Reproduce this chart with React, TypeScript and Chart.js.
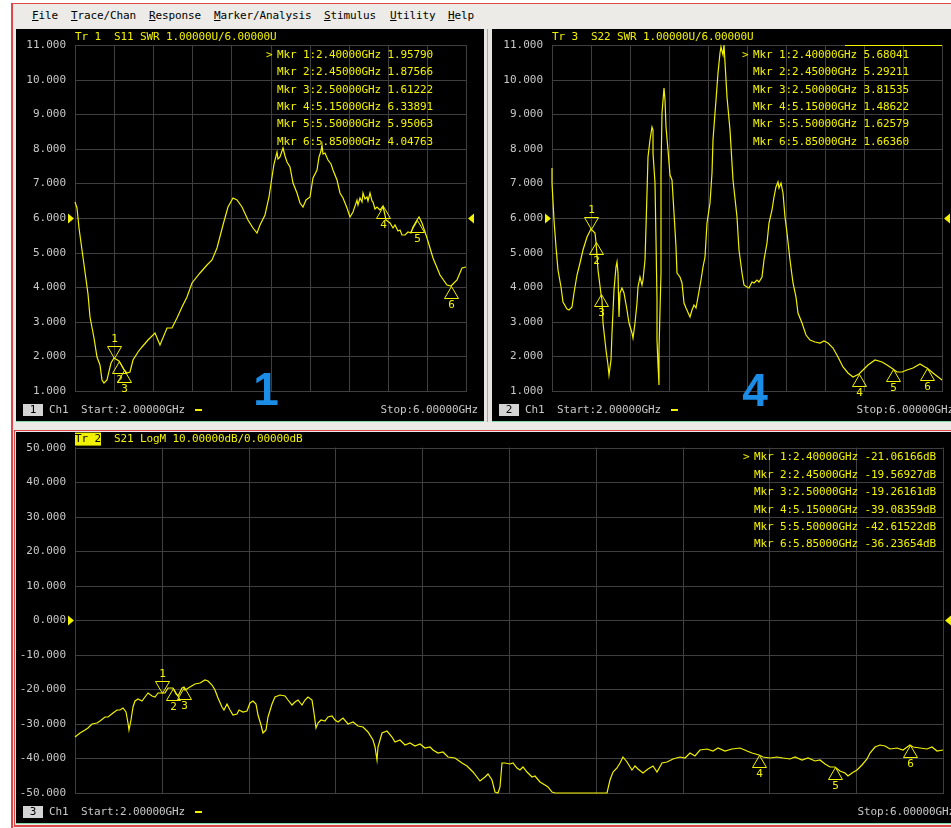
import React, { useEffect, useRef } from "react";
import { Chart, registerables } from "chart.js";

Chart.register(...registerables);

const MONO = '"DejaVu Sans Mono", "Liberation Mono", monospace';
const YELLOW = "#f2f200";
const GRID = "#3f3f3f";
const AXIS_TEXT = "#c8c8c8";
const ADV = 6.5; // fixed character advance of the instrument font

// ---- Trace 1: S11 SWR (GHz / ratio) ----
const s11Freq = [
  2.0, 2.017, 2.036, 2.069, 2.102, 2.128, 2.153, 2.197, 2.222, 2.256, 2.273, 2.3, 2.324, 2.368,
  2.4, 2.45, 2.5, 2.527, 2.563, 2.593, 2.64, 2.682, 2.747, 2.818, 2.87, 2.938, 2.989, 3.04,
  3.092, 3.143, 3.194, 3.279, 3.347, 3.398, 3.45, 3.517, 3.568, 3.616, 3.654, 3.705, 3.773,
  3.824, 3.859, 3.893, 3.944, 3.98, 4.012, 4.04, 4.063, 4.08, 4.097, 4.131, 4.15, 4.166, 4.2,
  4.233, 4.268, 4.302, 4.336, 4.363, 4.404, 4.438, 4.473, 4.499, 4.512, 4.524, 4.54, 4.558,
  4.591, 4.62, 4.642, 4.677, 4.711, 4.745, 4.78, 4.813, 4.847, 4.882, 4.9, 4.916, 4.935, 4.949,
  4.966, 4.984, 5.0, 5.018, 5.035, 5.052, 5.07, 5.086, 5.12, 5.15, 5.185, 5.222, 5.25, 5.274,
  5.3, 5.325, 5.35, 5.376, 5.407, 5.435, 5.461, 5.5, 5.52, 5.547, 5.598, 5.666, 5.734, 5.803,
  5.85, 5.905, 5.956, 6.0,
];
const s11Swr = [
  6.47, 6.29, 5.7, 5.07, 4.45, 3.8, 3.15, 2.53, 1.99, 1.75, 1.32, 1.24, 1.32, 1.81,
  1.9579, 1.87566, 1.61222, 1.52, 1.56, 1.9, 2.12, 2.28, 2.47, 2.67, 2.33, 2.81, 2.81, 3.1,
  3.44, 3.73, 4.11, 4.4, 4.64, 4.79, 5.12, 5.8, 6.33, 6.57, 6.52, 6.33, 5.94,
  5.7, 5.56, 5.8, 6.09, 6.6, 7.19, 7.55, 7.92, 7.7, 7.77, 8.01, 7.8, 7.63, 7.48,
  7.0, 6.71, 6.42, 6.33, 6.52, 6.62, 7.15, 7.39, 7.77, 7.95, 8.11, 7.85, 7.87,
  7.68, 7.55, 7.39, 7.1, 6.71, 6.57, 6.28, 6.04, 6.18, 6.52, 6.38, 6.57, 6.45, 6.71,
  6.55, 6.62, 6.48, 6.71, 6.5, 6.47, 6.25, 6.33, 6.23, 6.33891, 5.95, 5.85, 5.7, 5.8,
  5.62, 5.65, 5.5, 5.51, 5.6, 5.58, 5.75, 5.95063, 6.02, 5.85, 5.41, 4.84, 4.35, 4.06,
  4.04763, 4.21, 4.55, 4.59,
];

// ---- Trace 3: S22 SWR ----
const s22Freq = [
  2.0, 2.003, 2.024, 2.037, 2.065, 2.092, 2.116, 2.15, 2.174, 2.201, 2.228, 2.252, 2.287, 2.321,
  2.355, 2.4, 2.441, 2.45, 2.474, 2.5, 2.508, 2.526, 2.549, 2.57, 2.587, 2.604, 2.618, 2.635,
  2.652, 2.669, 2.679, 2.69, 2.7, 2.713, 2.741, 2.765, 2.789, 2.816, 2.833, 2.85, 2.867, 2.884,
  2.902, 2.918, 2.935, 2.953, 2.963, 2.976, 2.987, 3.004, 3.021, 3.031, 3.041, 3.055, 3.066,
  3.076, 3.082, 3.089, 3.096, 3.102, 3.113, 3.123, 3.133, 3.148, 3.158, 3.174, 3.192, 3.209,
  3.233, 3.253, 3.27, 3.287, 3.311, 3.335, 3.356, 3.379, 3.414, 3.438, 3.458, 3.482, 3.499,
  3.527, 3.55, 3.568, 3.594, 3.619, 3.636, 3.653, 3.67, 3.687, 3.704, 3.721, 3.738, 3.755,
  3.765, 3.793, 3.827, 3.861, 3.902, 3.922, 3.947, 3.97, 3.998, 4.025, 4.049, 4.076, 4.1,
  4.127, 4.152, 4.178, 4.203, 4.23, 4.254, 4.278, 4.298, 4.316, 4.332, 4.346, 4.367, 4.39,
  4.414, 4.442, 4.475, 4.503, 4.527, 4.561, 4.606, 4.647, 4.698, 4.749, 4.793, 4.834, 4.885,
  4.936, 4.988, 5.039, 5.09, 5.15, 5.193, 5.244, 5.312, 5.381, 5.432, 5.5, 5.535, 5.586,
  5.637, 5.705, 5.773, 5.825, 5.85, 5.91, 6.0,
];
const s22Swr = [
  7.44, 7.0, 5.94, 5.17, 4.5, 4.01, 3.58, 3.36, 3.34, 3.44, 3.82, 4.35, 4.69, 5.08,
  5.46, 5.68041, 5.56, 5.29211, 4.5, 3.81535, 3.63, 2.96, 2.18, 1.75, 1.46, 1.9, 2.67, 3.92,
  4.59, 4.74, 4.4, 3.15, 3.82, 3.97, 3.82, 3.34, 2.96, 2.67, 2.52, 2.96, 3.53, 4.01,
  4.29, 4.06, 4.21, 4.79, 5.75, 6.71, 7.77, 8.25, 8.64, 8.54, 7.87, 7.0, 5.36,
  3.63, 2.47, 1.75, 1.17, 2.2, 4.4, 7.29, 9.03, 9.75, 9.41, 8.64, 7.97, 7.24,
  7.1, 6.14, 5.17, 4.4, 4.29, 4.11, 3.53, 3.39, 3.15, 3.34, 3.49, 3.39, 3.73,
  4.21, 4.59, 4.88, 5.85, 6.42, 7.29, 8.25, 9.03, 9.41, 10.18, 10.76, 10.95, 10.71,
  11.0, 9.51, 8.54, 7.1, 6.04, 5.08, 4.4, 4.06, 4.01, 3.97, 4.16, 4.11, 4.21,
  4.16, 4.3, 4.79, 5.27, 5.85, 6.23, 6.62, 6.9, 7.05, 6.86, 7.0, 6.71, 6.04,
  5.56, 4.79, 4.11, 3.73, 3.25, 2.96, 2.62, 2.47, 2.42, 2.38, 2.45, 2.38, 2.23,
  1.99, 1.7, 1.51, 1.41, 1.48622, 1.61, 1.75, 1.9, 1.85, 1.75, 1.62579, 1.56, 1.56,
  1.61, 1.66, 1.78, 1.7, 1.6636, 1.51, 1.33,
];

// ---- Trace 2: S21 log magnitude (GHz / dB) ----
const s21Freq = [
  2.0, 2.023, 2.046, 2.061, 2.077, 2.1, 2.115, 2.138, 2.153, 2.176, 2.192, 2.207, 2.223, 2.235,
  2.243, 2.249, 2.257, 2.266, 2.276, 2.292, 2.307, 2.323, 2.338, 2.353, 2.369, 2.384, 2.4,
  2.415, 2.43, 2.45, 2.465, 2.476, 2.492, 2.5, 2.507, 2.53, 2.553, 2.576, 2.599, 2.614, 2.63,
  2.645, 2.66, 2.676, 2.687, 2.699, 2.714, 2.73, 2.745, 2.757, 2.776, 2.791, 2.806, 2.822,
  2.834, 2.845, 2.856, 2.868, 2.879, 2.891, 2.906, 2.922, 2.945, 2.968, 2.983, 2.999, 3.014,
  3.029, 3.045, 3.06, 3.075, 3.091, 3.101, 3.111, 3.121, 3.132, 3.152, 3.167, 3.183, 3.198,
  3.213, 3.236, 3.259, 3.282, 3.306, 3.329, 3.352, 3.372, 3.382, 3.39, 3.398, 3.413, 3.436,
  3.459, 3.475, 3.498, 3.521, 3.544, 3.567, 3.59, 3.613, 3.636, 3.651, 3.674, 3.697, 3.72,
  3.751, 3.782, 3.805, 3.835, 3.866, 3.889, 3.905, 3.92, 3.935, 3.951, 3.959, 3.966, 3.982,
  4.005, 4.02, 4.035, 4.051, 4.066, 4.082, 4.105, 4.12, 4.143, 4.166, 4.181, 4.197, 4.212,
  4.453, 4.465, 4.481, 4.496, 4.512, 4.527, 4.542, 4.565, 4.581, 4.596, 4.619, 4.642, 4.665,
  4.681, 4.704, 4.727, 4.757, 4.788, 4.811, 4.834, 4.857, 4.88, 4.911, 4.941, 4.965, 4.995,
  5.026, 5.064, 5.095, 5.118, 5.15, 5.172, 5.203, 5.234, 5.264, 5.295, 5.318, 5.349, 5.379,
  5.41, 5.433, 5.456, 5.479, 5.5, 5.525, 5.548, 5.564, 5.579, 5.602, 5.625, 5.648, 5.664,
  5.687, 5.71, 5.733, 5.756, 5.787, 5.817, 5.85, 5.863, 5.894, 5.925, 5.948, 5.971, 6.0,
];
const s21Db = [
  -33.9, -32.58, -31.79, -31.3, -30.06, -29.68, -29.19, -28.12, -27.95, -26.79, -26.01, -26.01, -25.43, -26.55,
  -29.86, -31.79, -28.9, -25.05, -23.32, -22.92, -23.32, -22.17, -21.19, -21.97, -22.33, -21.19, -21.06166,
  -21.0, -19.74, -19.56927, -21.39, -21.97, -19.48, -19.26161, -20.06, -19.28, -18.5, -18.12, -17.34, -17.53, -18.79,
  -20.23, -22.63, -25.06, -25.83, -24.28, -26.01, -27.46, -27.0, -26.0, -26.5, -26.2, -23.9, -23.5,
  -24.1, -27.46, -30.35, -32.75, -31.8, -27.95, -24.09, -22.17, -21.68, -21.97, -23.12, -24.57, -23.6,
  -23.12, -24.57, -23.12, -22.17, -23.12, -26.97, -31.3, -29.86, -28.9, -29.1, -28.1, -27.75, -28.9,
  -29.4, -28.4, -29.9, -29.4, -30.64, -31.0, -32.3, -34.68, -36.6, -40.46, -36.6, -32.75, -31.98,
  -33.7, -35.17, -34.7, -36.13, -35.45, -36.4, -35.8, -37.1, -36.8, -37.5, -38.53, -38.05, -39.5,
  -39.96, -41.4, -42.2, -43.84, -46.5, -45.29, -44.5, -46.24, -49.6, -50.0, -48.2, -41.4, -41.2,
  -41.6, -41.4, -42.9, -43.3, -42.6, -43.8, -45.3, -45.1, -46.7, -47.7, -48.2, -49.6, -50.0,
  -50.0, -46.24, -43.8, -42.9, -41.4, -39.7, -40.9, -43.3, -42.1, -43.0, -44.2, -43.0, -42.3,
  -43.8, -41.2, -40.9, -40.2, -39.5, -40.0, -38.5, -39.3, -37.57, -37.4, -37.8, -37.1, -37.8,
  -37.4, -37.1, -37.8, -38.4, -39.08359, -39.7, -40.0, -39.5, -40.0, -40.2, -39.7, -40.5, -40.0,
  -40.6, -40.5, -41.6, -42.4, -42.61522, -43.5, -44.2, -45.0, -44.2, -43.3, -41.8, -40.2, -38.5,
  -36.8, -36.1, -36.4, -37.4, -37.1, -37.6, -36.23654, -36.8, -37.1, -37.4, -36.8, -37.8, -37.6,
];

// ---- Markers (shared stimulus points) ----
const markerFreq = [2.4, 2.45, 2.5, 5.15, 5.5, 5.85];
const s11MarkerVal = [1.9579, 1.87566, 1.61222, 6.33891, 5.95063, 4.04763];
const s22MarkerVal = [5.68041, 5.29211, 3.81535, 1.48622, 1.62579, 1.6636];
const s21MarkerVal = [-21.06166, -19.56927, -19.26161, -39.08359, -42.61522, -36.23654];

const startGHz = 2.0;
const stopGHz = 6.0;
const freqStep = 0.4;

const menuItems = ["File", "Trace/Chan", "Response", "Marker/Analysis", "Stimulus", "Utility", "Help"];
const menuX = [32, 71, 149, 214, 324, 390, 448];

type Panel = {
  left: number;
  top: number;
  width: number;
  height: number;
  yWidth: number;
  padRight: number;
  padTop: number;
  padBottom: number;
  trLabel: string;
  header: string;
  highlight: boolean;
  chNum: string;
  freq: number[];
  vals: number[];
  yMin: number;
  yMax: number;
  yStep: number;
  refVal: number;
  markerVals: number[];
  unit: string;
  tableX: number;
  big?: { text: string; x: number; y: number };
  topSeg?: [number, number];
};

const panels: Panel[] = [
  {
    left: 16, top: 29, width: 468, height: 392, yWidth: 59, padRight: 18, padTop: 16, padBottom: 30,
    trLabel: "Tr 1", header: "S11 SWR 1.00000U/6.00000U", highlight: false, chNum: "1",
    freq: s11Freq, vals: s11Swr, yMin: 1, yMax: 11, yStep: 1, refVal: 6,
    markerVals: s11MarkerVal, unit: "", tableX: 261, big: { text: "1", x: 250, y: 376 },
  },
  {
    left: 492, top: 29, width: 470, height: 392, yWidth: 60, padRight: 20, padTop: 16, padBottom: 30,
    trLabel: "Tr 3", header: "S22 SWR 1.00000U/6.00000U", highlight: false, chNum: "2",
    freq: s22Freq, vals: s22Swr, yMin: 1, yMax: 11, yStep: 1, refVal: 6,
    markerVals: s22MarkerVal, unit: "", tableX: 261, big: { text: "4", x: 263, y: 377 },
    topSeg: [5.0, 6.0],
  },
  {
    left: 16, top: 432, width: 940, height: 391, yWidth: 59, padRight: 13, padTop: 15, padBottom: 30,
    trLabel: "Tr 2", header: "S21 LogM 10.00000dB/0.00000dB", highlight: true, chNum: "3",
    freq: s21Freq, vals: s21Db, yMin: -50, yMax: 50, yStep: 10, refVal: 0,
    markerVals: s21MarkerVal, unit: "dB", tableX: 738,
  },
];

function mono(ctx: CanvasRenderingContext2D, s: string, x: number, y: number, color: string, align = "left") {
  const w = s.length * ADV;
  const x0 = align === "right" ? x - w : align === "center" ? x - w / 2 : x;
  ctx.save();
  ctx.font = `11px ${MONO}`;
  ctx.fillStyle = color;
  ctx.textAlign = "left";
  ctx.textBaseline = "middle";
  for (let i = 0; i < s.length; i++) ctx.fillText(s[i], x0 + i * ADV, y);
  ctx.restore();
}

function overlayPlugin(p: Panel) {
  return {
    id: "vnaOverlay",
    afterDraw(chart: any) {
      const ctx: CanvasRenderingContext2D = chart.ctx;
      const area = chart.chartArea;
      const xs = chart.scales.x;
      const ys = chart.scales.y;

      // trace title line
      const hy = area.top - 8;
      if (p.highlight) {
        ctx.fillStyle = YELLOW;
        ctx.fillRect(area.left, area.top - 15, 26, 13);
        mono(ctx, p.trLabel, area.left, hy, "#000");
      } else {
        mono(ctx, p.trLabel, area.left, hy, YELLOW);
      }
      mono(ctx, p.header, area.left + 6 * ADV, hy, YELLOW);

      // top-edge segment
      if (p.topSeg) {
        ctx.save();
        ctx.strokeStyle = YELLOW;
        ctx.lineWidth = 1;
        ctx.beginPath();
        ctx.moveTo(xs.getPixelForValue(p.topSeg[0]), Math.round(area.top) + 0.5);
        ctx.lineTo(xs.getPixelForValue(p.topSeg[1]), Math.round(area.top) + 0.5);
        ctx.stroke();
        ctx.restore();
      }

      // marker readout table
      for (let i = 0; i < markerFreq.length; i++) {
        const y = area.top + 10 + i * 17.4;
        if (i === 0) mono(ctx, ">", p.tableX - 11, y, YELLOW);
        const txt = `Mkr ${i + 1}:${markerFreq[i].toFixed(5)}GHz ${p.markerVals[i].toFixed(5)}${p.unit}`;
        mono(ctx, txt, p.tableX, y, YELLOW);
      }

      // marker symbols on the trace
      ctx.save();
      ctx.strokeStyle = YELLOW;
      ctx.lineWidth = 1;
      for (let i = 0; i < markerFreq.length; i++) {
        const px = Math.round(xs.getPixelForValue(markerFreq[i])) + 0.5;
        const py = Math.round(ys.getPixelForValue(p.markerVals[i])) + 0.5;
        ctx.beginPath();
        if (i === 0) {
          ctx.moveTo(px, py);
          ctx.lineTo(px - 7, py - 12);
          ctx.lineTo(px + 7, py - 12);
        } else {
          ctx.moveTo(px, py);
          ctx.lineTo(px - 7, py + 12);
          ctx.lineTo(px + 7, py + 12);
        }
        ctx.closePath();
        ctx.stroke();
        const ly = i === 0 ? py - 19 : py + 19;
        mono(ctx, String(i + 1), px, ly, YELLOW, "center");
      }
      ctx.restore();

      // reference level arrows
      const ry = Math.round(ys.getPixelForValue(p.refVal)) + 0.5;
      ctx.save();
      ctx.fillStyle = YELLOW;
      ctx.beginPath();
      ctx.moveTo(area.left - 1, ry);
      ctx.lineTo(area.left - 7, ry - 5);
      ctx.lineTo(area.left - 7, ry + 5);
      ctx.closePath();
      ctx.fill();
      ctx.beginPath();
      ctx.moveTo(area.right + 2, ry);
      ctx.lineTo(area.right + 8, ry - 5);
      ctx.lineTo(area.right + 8, ry + 5);
      ctx.closePath();
      ctx.fill();
      ctx.restore();

      // channel status line
      const fy = area.bottom + 19;
      ctx.fillStyle = "#d4d4d4";
      ctx.fillRect(7, area.bottom + 13, 20, 12);
      mono(ctx, p.chNum, 17, fy, "#000", "center");
      mono(ctx, "Ch1", 33, fy, AXIS_TEXT);
      mono(ctx, `Start:${startGHz.toFixed(5)}GHz`, 65, fy, AXIS_TEXT);
      ctx.fillStyle = YELLOW;
      ctx.fillRect(179, Math.round(fy) - 1, 7, 2);
      mono(ctx, `Stop:${stopGHz.toFixed(5)}GHz`, area.right + 12, fy, AXIS_TEXT, "right");

      // window number
      if (p.big) {
        ctx.save();
        ctx.fillStyle = "#1b8de6";
        ctx.font = 'bold 46px "Liberation Sans", Arial, sans-serif';
        ctx.textAlign = "center";
        ctx.textBaseline = "alphabetic";
        ctx.fillText(p.big.text, p.big.x, p.big.y);
        ctx.restore();
      }
    },
  };
}

function VnaPanel({ p }: { p: Panel }) {
  const ref = useRef<HTMLCanvasElement>(null);
  useEffect(() => {
    const canvas = ref.current;
    if (!canvas) return;
    const chart = new Chart(canvas, {
      type: "line",
      data: {
        datasets: [
          {
            data: p.freq.map((f, i) => ({ x: f, y: p.vals[i] })),
            borderColor: YELLOW,
            borderWidth: 1.2,
            pointRadius: 0,
            tension: 0,
            clip: 3,
          } as any,
        ],
      },
      options: {
        responsive: false,
        animation: false,
        devicePixelRatio: 1,
        events: [],
        layout: { padding: { left: 0, right: p.padRight, top: p.padTop, bottom: p.padBottom } },
        plugins: { legend: { display: false }, tooltip: { enabled: false } },
        scales: {
          x: {
            type: "linear",
            min: startGHz,
            max: stopGHz,
            alignToPixels: true,
            ticks: { display: false, stepSize: freqStep },
            grid: { color: GRID, lineWidth: 1, drawTicks: false },
            border: { color: GRID },
            afterFit: (s: any) => {
              s.height = 0;
            },
          },
          y: {
            type: "linear",
            min: p.yMin,
            max: p.yMax,
            alignToPixels: true,
            ticks: {
              stepSize: p.yStep,
              padding: 9,
              color: AXIS_TEXT,
              font: { family: MONO, size: 11 },
              callback: (v: any) => Number(v).toFixed(3),
            },
            grid: { color: GRID, lineWidth: 1, drawTicks: false },
            border: { color: GRID },
            afterFit: (s: any) => {
              s.width = p.yWidth;
            },
          },
        },
      },
      plugins: [overlayPlugin(p)],
    } as any);
    return () => chart.destroy();
  }, [p]);
  return (
    <canvas
      ref={ref}
      width={p.width}
      height={p.height}
      style={{ position: "absolute", left: p.left, top: p.top, width: p.width, height: p.height, background: "#000" }}
    />
  );
}

export default function App() {
  return (
    <div
      style={{
        position: "fixed",
        left: 0,
        top: 0,
        width: 951,
        height: 828,
        background: "#ffffff",
        overflow: "hidden",
      }}
    >
      {/* application window */}
      <div
        style={{
          position: "absolute",
          left: 11,
          top: 3,
          width: 945,
          height: 830,
          background: "#ecebe7",
          borderLeft: "2px solid #e04848",
          borderTop: "1px solid #e04848",
          boxSizing: "border-box",
        }}
      />
      {/* menu bar */}
      {menuItems.map((m, i) => (
        <div
          key={m}
          style={{
            position: "absolute",
            left: menuX[i],
            top: 9,
            font: `11px ${MONO}`,
            lineHeight: "13px",
            letterSpacing: "-0.12px",
            color: "#000",
            whiteSpace: "pre",
          }}
        >
          <u>{m[0]}</u>
          {m.slice(1)}
        </div>
      ))}
      {/* splitter between the two upper windows */}
      <div style={{ position: "absolute", left: 484, top: 29, width: 8, height: 393, background: "#e6e5e1" }} />
      <div style={{ position: "absolute", left: 487, top: 29, width: 1, height: 393, background: "#a8a8a8" }} />
      {/* upper window bottom edges */}
      <div style={{ position: "absolute", left: 16, top: 421, width: 468, height: 1, background: "#7fd9a8" }} />
      <div style={{ position: "absolute", left: 492, top: 421, width: 470, height: 1, background: "#7fd9a8" }} />
      {/* lower (active) window frame */}
      <div
        style={{
          position: "absolute",
          left: 14,
          top: 430,
          width: 945,
          height: 397,
          borderLeft: "1px solid #e04848",
          borderTop: "1px solid #e04848",
          borderBottom: "2px solid #e04848",
          boxSizing: "border-box",
        }}
      />
      <div style={{ position: "absolute", left: 16, top: 823, width: 945, height: 1, background: "#7fd9a8" }} />
      {panels.map((p, i) => (
        <VnaPanel key={i} p={p} />
      ))}
    </div>
  );
}
